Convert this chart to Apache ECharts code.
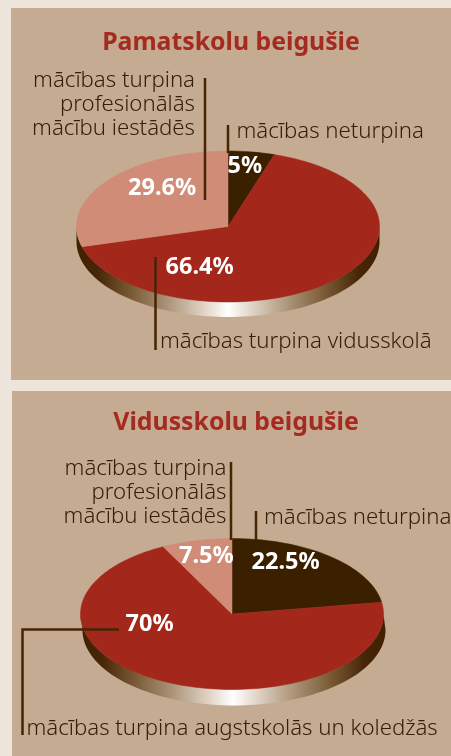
<!DOCTYPE html>
<html>
<head>
<meta charset="utf-8">
<title>Pamatskolu un vidusskolu beigušie</title>
<script src="https://cdn.jsdelivr.net/npm/echarts@6/dist/echarts.min.js"></script>
<style>
html,body{margin:0;padding:0;background:#ede4db;}
#chart{width:451px;height:756px;}
</style>
</head>
<body>
<div id="chart"></div>
<script>
// values
var pamatCategories = ['mācības neturpina', 'mācības turpina vidusskolā', 'mācības turpina\nprofesionālās\nmācību iestādēs'];
var pamatValues = [5, 66.4, 29.6];
var vidusCategories = ['mācības neturpina', 'mācības turpina augstskolās un koledžās', 'mācības turpina\nprofesionālās\nmācību iestādēs'];
var vidusValues = [22.5, 70, 7.5];
var pamatTitle = 'Pamatskolu beigušie';
var vidusTitle = 'Vidusskolu beigušie';

var colors = ['#3b2000', '#a3271b', '#d08c76'];
var textColor = '#352006';
var lineColor = '#452503';
var labelFont = '300 22.2px "Noto Sans"';
var pctFont = 'bold 23.5px "Noto Sans"';

var chart = echarts.init(document.getElementById('chart'));

// pie is tilted, the library pie cannot do an ellipse so slices are a custom series
function ellipsePoints(g, from, to, dy, dx) {
    var pts = [];
    var n = Math.max(2, Math.ceil(Math.abs(to - from) * 180));
    for (var i = 0; i <= n; i++) {
        var a = (from + (to - from) * i / n) * Math.PI * 2;
        pts.push([g.cx + (dx || 0) + g.rx * Math.sin(a), g.cy + (dy || 0) - g.ry * Math.cos(a)]);
    }
    return pts;
}

function sliceSeries(name, cats, values, g) {
    var sum = 0, run = 0, data = [];
    values.forEach(function (v) { sum += v; });
    values.forEach(function (v, i) {
        data.push({name: cats[i], value: [run / sum, (run + v) / sum, i]});
        run += v;
    });
    return {
        type: 'custom',
        name: name,
        coordinateSystem: 'none',
        z: 3,
        silent: true,
        data: data,
        renderItem: function (params, api) {
            var pts = ellipsePoints(g, api.value(0), api.value(1));
            pts.unshift([g.cx, g.cy]);
            var c = colors[api.value(2)];
            return {
                type: 'polygon',
                shape: {points: pts},
                style: {fill: c, stroke: c, lineWidth: 0.5}
            };
        }
    };
}

// the rim under the pie
function bandSeries(name, g) {
    return {
        type: 'custom',
        name: name,
        coordinateSystem: 'none',
        z: 2,
        silent: true,
        data: [1],
        renderItem: function () {
            var top = ellipsePoints(g, 0.25, 0.75);
            var low = ellipsePoints(g, 0.75, 0.25, g.depth, g.bandDx);
            return {
                type: 'polygon',
                shape: {points: top.concat(low)},
                style: {
                    fill: new echarts.graphic.LinearGradient(0, 0, 1, 0, [
                        {offset: 0, color: '#3f2000'},
                        {offset: 0.07, color: '#472607'},
                        {offset: 0.18, color: '#7a5a35'},
                        {offset: 0.3, color: '#ab9479'},
                        {offset: 0.42, color: '#e0d3c5'},
                        {offset: 0.5, color: '#ffffff'},
                        {offset: 0.58, color: '#e0d3c5'},
                        {offset: 0.7, color: '#ab9479'},
                        {offset: 0.82, color: '#7a5a35'},
                        {offset: 0.93, color: '#472607'},
                        {offset: 1, color: '#3f2000'}
                    ])
                }
            };
        }
    };
}

function txt(str, x, y, font, fill, align) {
    return {
        type: 'text', x: x, y: y, z: 20, silent: true,
        style: {text: str, font: font, fill: fill, textAlign: align || 'left', textVerticalAlign: 'bottom', lineHeight: 24}
    };
}
function rule(points) {
    return {
        type: 'polyline', z: 10, silent: true,
        shape: {points: points},
        style: {stroke: lineColor, lineWidth: 2.5, fill: null}
    };
}

var pieA = {cx: 228, cy: 226.5, rx: 151.5, ry: 75.5, depth: 15, bandDx: 0};
var pieB = {cx: 232, cy: 614, rx: 151.5, ry: 75.5, depth: 16, bandDx: 2};

var option = {
    animation: false,
    backgroundColor: '#ede4db',
    title: [
        {text: pamatTitle, left: 226, top: 25, textAlign: 'center', textStyle: {color: '#a52a20', fontFamily: 'Noto Sans', fontWeight: 'bold', fontSize: 24.8}},
        {text: vidusTitle, left: 231, top: 405, textAlign: 'center', textStyle: {color: '#a52a20', fontFamily: 'Noto Sans', fontWeight: 'bold', fontSize: 24.8}}
    ],
    graphic: {
        elements: [
            {type: 'rect', z: 0, silent: true, shape: {x: 11, y: 8, width: 440, height: 372}, style: {fill: '#c4ab92'}},
            {type: 'rect', z: 0, silent: true, shape: {x: 12, y: 391, width: 439, height: 365}, style: {fill: '#c4ab92'}},

            rule([[205, 78], [205, 200]]),
            rule([[228, 125], [228, 153]]),
            rule([[155.5, 257], [155.5, 350]]),
            txt(pamatCategories[2], 195, 141, labelFont, textColor, 'right'),
            txt(pamatCategories[0], 236.5, 144, labelFont, textColor),
            txt(pamatCategories[1], 160, 354, labelFont, textColor),
            txt(pamatValues[0] + '%', 227.5, 178, pctFont, '#fff'),
            txt(pamatValues[2] + '%', 128, 200, pctFont, '#fff'),
            txt(pamatValues[1] + '%', 165.5, 279, pctFont, '#fff'),

            rule([[231, 462], [231, 540]]),
            rule([[256, 511], [256, 540]]),
            rule([[119, 629.5], [22.5, 629.5], [22.5, 735]]),
            txt(vidusCategories[2], 226.5, 529, labelFont, textColor, 'right'),
            txt(vidusCategories[0], 264, 530, labelFont, textColor),
            txt(vidusCategories[1], 26.5, 741, labelFont, textColor),
            txt(vidusValues[2] + '%', 179, 568, pctFont, '#fff'),
            txt(vidusValues[0] + '%', 251.5, 574, pctFont, '#fff'),
            txt(vidusValues[1] + '%', 125.5, 636, pctFont, '#fff')
        ]
    },
    series: [
        bandSeries('rim1', pieA),
        sliceSeries(pamatTitle, pamatCategories, pamatValues, pieA),
        bandSeries('rim2', pieB),
        sliceSeries(vidusTitle, vidusCategories, vidusValues, pieB)
    ]
};
chart.setOption(option);
</script>
</body>
</html>
